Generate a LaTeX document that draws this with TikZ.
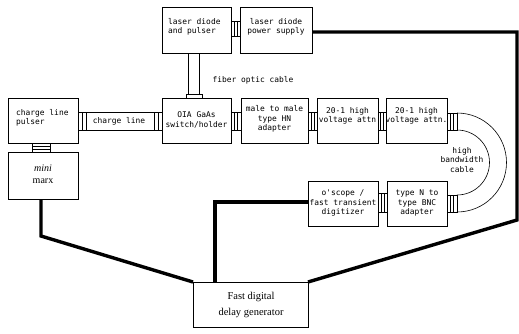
\documentclass[tikz,border=0pt]{standalone}
\usepackage{fontspec}
\setmainfont{Liberation Serif}
\newfontfamily\plotfont{DejaVu Sans Mono}
\begin{document}
\begin{tikzpicture}[x=1pt,y=-1pt,
  box/.style={draw,line width=0.6pt,inner sep=0pt},
  lbl/.style={font=\plotfont\fontsize{7.9}{9.3}\selectfont,align=center,inner sep=0pt},
  lbll/.style={font=\plotfont\fontsize{7.9}{9.3}\selectfont,align=left,inner sep=0pt},
  serlbl/.style={font=\fontsize{10.5}{16}\selectfont,align=center,inner sep=0pt},
  conn/.style={line width=0.6pt},
  thick line/.style={line width=3.4pt,line join=miter}]
\useasboundingbox (0,0) rectangle (519,333);
% boxes
\newcommand{\boxat}[5]{\draw[box] (#2,#3) rectangle (#4,#5); \coordinate (#1-nw) at (#2,#3); \coordinate (#1-se) at (#4,#5);}
\boxat{ldp}{162}{7}{231}{53}
\boxat{ps}{240}{7}{312}{53}
\boxat{oia}{162}{98}{231}{143}
\boxat{clp}{8}{98}{78}{143}
\boxat{mm}{8}{152}{78}{199}
\boxat{mtm}{241}{98}{308}{143}
\boxat{aa}{317}{98}{378}{143}
\boxat{ab}{386}{98}{447}{143}
\boxat{osc}{308}{181}{378}{226}
\boxat{bnc}{387}{181}{447}{226}
\boxat{fdg}{193}{282}{308}{327}
% texts
\node[lbll,anchor=north west] (tldp) at (168,18) {laser diode\\and pulser};
\node[lbl] (tps) at (276,27) {laser diode\\power supply};
\node[lbl] (toia) at (196.5,120) {OIA GaAs\\switch/holder};
\node[lbll,anchor=north west] (tclp) at (16,109) {charge line\\pulser};
\node[serlbl,font=\fontsize{10}{12}\selectfont] (tmm) at (43,174) {\textit{mini}\\marx};
\node[lbl] (tmtm) at (274.5,119) {male to male\\type HN\\adapter};
\node[lbl] (taa) at (347.5,116) {20-1 high\\voltage attn};
\node[lbl] (tab) at (416.5,116) {20-1 high\\voltage attn.};
\node[lbl] (tosc) at (343,203) {o'scope /\\fast transient\\digitizer};
\node[lbl] (tbnc) at (417,203) {type N to\\type BNC\\adapter};
\node[serlbl] (tfdg) at (251,305) {Fast digital\\delay generator};
\node[lbl] (tfib) at (253,80) {fiber optic cable};
\node[lbl] (tcab) at (462,160) {high\\bandwidth\\cable};
% small connectors
\newcommand{\hconn}[4]{% x1 x2 y1 y2
  \draw[conn] (#1,#3) rectangle (#2,#4);
  \draw[conn] ({#1+(#2-#1)/3},#3) -- ({#1+(#2-#1)/3},#4);
  \draw[conn] ({#1+2*(#2-#1)/3},#3) -- ({#1+2*(#2-#1)/3},#4);}
\hconn{231}{240}{21}{36}
\hconn{231}{241}{112}{130}
\hconn{308}{317}{112}{130}
\hconn{378}{386}{112}{130}
\hconn{378}{387}{193}{212}
\hconn{447}{457}{113}{130}
\hconn{447}{457}{195}{212}
% mini marx connector (vertical)
\draw[conn] (32,143) rectangle (50,152);
\draw[conn] (32,146) -- (50,146);
\draw[conn] (32,149) -- (50,149);
% charge line
\draw[conn] (78,112) rectangle (162,130);
\foreach \x in {82,86,154,158} \draw[conn] (\x,112) -- (\x,130);
\node[lbl] (tcl) at (119,121) {charge line};
% fiber optic cable
\draw[conn] (188,53) rectangle (199,94);
\draw[conn] (186,94) rectangle (202,98);
% high bandwidth cable arcs
\coordinate (cao) at (457,113);
\coordinate (cai) at (457,130);
\draw[conn] (cao) arc[start angle=-90,end angle=90,radius=49.5];
\draw[conn] (cai) arc[start angle=-90,end angle=90,radius=32.5];
% thick wires
\coordinate (w1) at (517,32);
\coordinate (w2) at (517,220);
\coordinate (w3) at (215,202);
\coordinate (w4) at (41,236);
\draw[thick line] (312,32) -- (w1) -- (w2) -- (fdg-se |- fdg-nw);
\draw[thick line] (308,202) -- (w3) -- (215,282);
\draw[thick line] (41,199) -- (w4) -- (fdg-nw);
\end{tikzpicture}
\end{document}
